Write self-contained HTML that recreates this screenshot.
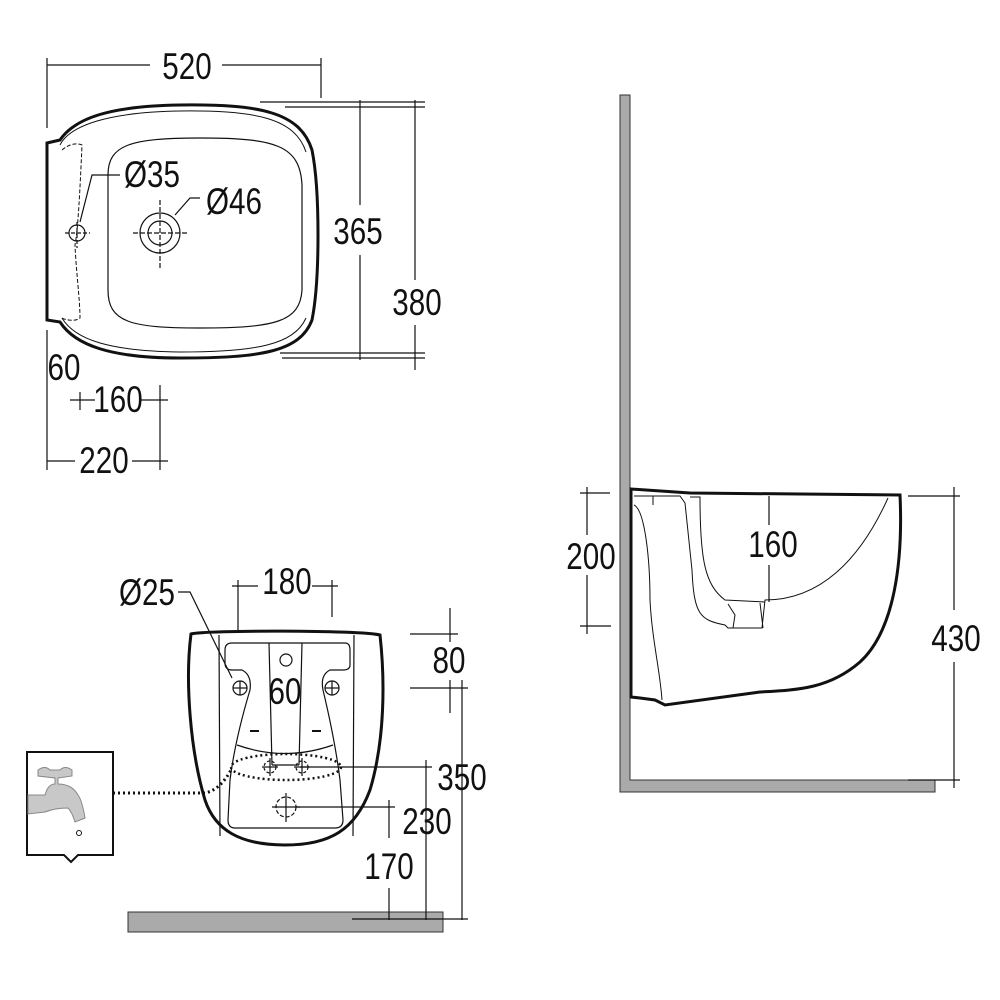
<!DOCTYPE html>
<html><head><meta charset="utf-8"><style>
html,body{margin:0;padding:0;background:#fff}
svg{display:block}
text{font-family:"Liberation Sans",sans-serif;font-size:37px;fill:#111;text-anchor:middle}
</style></head><body>
<svg width="1000" height="1000" viewBox="0 0 1000 1000" xmlns="http://www.w3.org/2000/svg">
<g fill="none" stroke="#111" stroke-width="1.2">
<line x1="47" y1="58" x2="47" y2="128"/>
<line x1="321" y1="58" x2="321" y2="98"/>
<line x1="47" y1="65" x2="150" y2="65"/>
<line x1="222" y1="65" x2="321" y2="65"/>
<line x1="260" y1="102" x2="425" y2="102"/>
<line x1="285" y1="107" x2="425" y2="107"/>
<line x1="280" y1="353" x2="425" y2="353"/>
<line x1="282" y1="358" x2="425" y2="358"/>
<line x1="360" y1="100" x2="360" y2="205"/>
<line x1="360" y1="255" x2="360" y2="360"/>
<line x1="415" y1="100" x2="415" y2="280"/>
<line x1="415" y1="325" x2="415" y2="370"/>
<line x1="47" y1="330" x2="47" y2="470"/>
<line x1="160" y1="385" x2="160" y2="470"/>
<line x1="70" y1="400" x2="95" y2="400"/>
<line x1="80" y1="392" x2="80" y2="410"/>
<line x1="140" y1="400" x2="168" y2="400"/>
<line x1="47" y1="461" x2="75" y2="461"/>
<line x1="132" y1="461" x2="168" y2="461"/>
</g>
<path d="M47 143 L60 140 C75 118 110 106 180 105 C260 104 300 112 312 150 C320 190 320 280 312 320 C300 352 260 358 180 358 C110 358 75 345 60 322 L47 320 Z" fill="none" stroke="#111" stroke-width="3"/>
<path d="M60 145 C70 125 110 112 180 111 C255 110 295 118 306 152" fill="none" stroke="#111" stroke-width="1"/>
<path d="M62 318 C75 340 110 351 180 352 C255 352 294 345 306 318" fill="none" stroke="#111" stroke-width="1"/>
<path d="M108 175 C108 145 130 138 200 138 C275 138 300 145 302 185 L302 290 C300 322 275 328 200 328 C130 328 108 322 108 290 Z" fill="none" stroke="#111" stroke-width="1.2"/>
<path d="M62 150 C70 143 78 143 82 145 C80 190 78 230 75 245 C76 270 80 300 80 318 C75 322 65 320 62 318" fill="none" stroke="#111" stroke-width="1" stroke-dasharray="4 2"/>
<g fill="none" stroke="#111" stroke-width="1.2">
<circle cx="77" cy="233" r="8"/>
<line x1="65" y1="233" x2="90" y2="233" stroke-dasharray="4 2"/>
<line x1="77" y1="222" x2="77" y2="248" stroke-dasharray="4 2"/>
<circle cx="160" cy="233" r="20"/>
<circle cx="160" cy="233" r="12"/>
<line x1="133" y1="233" x2="187" y2="233" stroke-dasharray="5 2"/>
<line x1="160" y1="200" x2="160" y2="268" stroke-dasharray="5 2"/>
<path d="M80 222 L92 175 L120 175"/>
<path d="M175 215 L190 198 L200 198"/>
</g>
<text transform="translate(187 79) scale(0.8 1)">520</text>
<text transform="translate(152 187) scale(0.8 1)">Ø35</text>
<text transform="translate(234 214) scale(0.8 1)">Ø46</text>
<text transform="translate(358 244) scale(0.8 1)">365</text>
<text transform="translate(417 315) scale(0.8 1)">380</text>
<text transform="translate(64 380) scale(0.8 1)">60</text>
<text transform="translate(118 412) scale(0.8 1)">160</text>
<text transform="translate(104 473) scale(0.8 1)">220</text>

<!-- SIDE VIEW -->
<path d="M620 95 L630 95 L630 780 L935 780 L935 792 L620 792 Z" fill="#aaa" stroke="#333" stroke-width="1"/>
<path d="M631 489 L690 493 L900 495 C903 560 895 630 860 662 C830 688 800 690 760 692 L665 705 L655 700 L640 698 L631 697 Z" fill="#fff" stroke="#111" stroke-width="3"/>
<path d="M634 505 C645 510 650 560 650 600 C652 640 660 670 662 700" fill="none" stroke="#111" stroke-width="1"/>
<path d="M634 496 L680 496 L685 503 L692 570 C694 615 700 620 725 625 L728 628 L762 628 L765 600 C820 600 860 560 888 498" fill="none" stroke="#111" stroke-width="1"/>
<path d="M690 497 L700 497 C700 560 705 585 725 600 L765 602" fill="none" stroke="#111" stroke-width="1"/>
<path d="M728 604 L735 615 L733 628 M760 603 L763 628" fill="none" stroke="#111" stroke-width="1"/>
<line x1="653" y1="496" x2="653" y2="505" stroke="#111"/>
<g fill="none" stroke="#111" stroke-width="1.2">
<line x1="580" y1="493" x2="610" y2="493"/>
<line x1="580" y1="626" x2="611" y2="626"/>
<line x1="587" y1="487" x2="587" y2="535"/>
<line x1="587" y1="575" x2="587" y2="634"/>
<line x1="769" y1="496" x2="769" y2="525"/>
<line x1="769" y1="565" x2="769" y2="602"/>
<line x1="908" y1="496" x2="960" y2="496"/>
<line x1="908" y1="780" x2="960" y2="780"/>
<line x1="954" y1="487" x2="954" y2="610"/>
<line x1="954" y1="662" x2="954" y2="788"/>
</g>
<text transform="translate(591 569) scale(0.8 1)">200</text>
<text transform="translate(773 557) scale(0.8 1)">160</text>
<text transform="translate(956 651) scale(0.8 1)">430</text>

<!-- FRONT VIEW -->
<rect x="128" y="912" width="315" height="20" fill="#aaa" stroke="#333" stroke-width="1"/>
<path d="M191 634 C205 630 360 630 380 635 C385 680 385 740 370 790 C355 830 330 845 285 845 C240 845 215 830 205 800 C190 750 185 680 191 634 Z" fill="#fff" stroke="#111" stroke-width="3"/>
<g fill="none" stroke="#111" stroke-width="1.2">
<line x1="219" y1="635" x2="220" y2="836"/>
<line x1="354" y1="635" x2="353" y2="836"/>
<path d="M225 650 Q225 643 232 643 L345 643 Q350 643 350 650 L350 665 Q350 670 343 670 L330 670 Q320 675 323 690 Q335 740 340 780 L343 820 Q343 828 335 828 L235 828 Q228 828 228 820 L230 780 Q235 740 250 690 Q252 675 242 670 L232 670 Q225 670 225 663 Z"/>
<line x1="269" y1="643" x2="272" y2="765"/>
<line x1="302" y1="643" x2="299" y2="765"/>
<line x1="272" y1="765" x2="299" y2="765"/>
<circle cx="286" cy="660" r="6"/>
<circle cx="240" cy="688" r="7"/><line x1="233" y1="688" x2="247" y2="688"/><line x1="240" y1="681" x2="240" y2="695"/>
<circle cx="332" cy="688" r="7"/><line x1="325" y1="688" x2="339" y2="688"/><line x1="332" y1="681" x2="332" y2="695"/>
<line x1="250" y1="731" x2="259" y2="731" stroke-width="2"/>
<line x1="312" y1="731" x2="321" y2="731" stroke-width="2"/>
<path d="M237 745 Q285 762 333 745"/>
<ellipse cx="286" cy="767" rx="55" ry="13" stroke-dasharray="2 3" stroke-width="2.5"/>
<circle cx="270" cy="767" r="6" stroke-dasharray="3 2"/><circle cx="302" cy="767" r="6" stroke-dasharray="3 2"/>
<line x1="262" y1="767" x2="278" y2="767"/><line x1="270" y1="758" x2="270" y2="776"/>
<line x1="294" y1="767" x2="310" y2="767"/><line x1="302" y1="758" x2="302" y2="776"/>
<circle cx="286" cy="807" r="10" stroke-dasharray="4 2"/>
<line x1="272" y1="807" x2="300" y2="807"/><line x1="286" y1="793" x2="286" y2="822"/>
<path d="M178 592 L190 592 L232 678"/>
<line x1="238" y1="580" x2="238" y2="632"/>
<line x1="332" y1="580" x2="332" y2="617"/>
<line x1="232" y1="586" x2="258" y2="586"/>
<line x1="312" y1="586" x2="338" y2="586"/>
<line x1="410" y1="634" x2="458" y2="634"/>
<line x1="410" y1="688" x2="468" y2="688"/>
<line x1="450" y1="608" x2="450" y2="642"/>
<line x1="450" y1="680" x2="450" y2="713"/>
<line x1="462" y1="680" x2="462" y2="920"/>
<line x1="300" y1="767" x2="432" y2="767"/>
<line x1="426" y1="760" x2="426" y2="920"/>
<line x1="296" y1="807" x2="395" y2="807"/>
<line x1="389" y1="800" x2="389" y2="838"/>
<line x1="389" y1="888" x2="389" y2="920"/>
<line x1="352" y1="919" x2="468" y2="919"/>
</g>
<path d="M113 793 L205 793 Q220 790 231 770" fill="none" stroke="#111" stroke-width="3" stroke-dasharray="2 3"/>
<path d="M27 752 L113 752 L113 855 L78 855 L71 862 L64 855 L27 855 Z" fill="#fff" stroke="#111" stroke-width="2"/>
<path d="M38 770 Q45 765 50 770 L60 770 Q65 765 72 770 L72 776 L58 778 L58 784 Q72 784 78 795 Q82 800 85 818 L75 822 Q72 812 68 808 Q55 808 45 812 L28 814 L28 795 L45 795 Q48 784 55 784 L55 778 L38 776 Z" fill="#c8c8c8" stroke="#888" stroke-width="1"/>
<circle cx="79" cy="833" r="2.5" fill="none" stroke="#111"/>
<text transform="translate(147 605) scale(0.8 1)">Ø25</text>
<text transform="translate(287 594) scale(0.8 1)">180</text>
<text transform="translate(449 673) scale(0.8 1)">80</text>
<text transform="translate(285 704) scale(0.8 1)">60</text>
<text transform="translate(462 790) scale(0.8 1)">350</text>
<text transform="translate(427 834) scale(0.8 1)">230</text>
<text transform="translate(389 879) scale(0.8 1)">170</text>
</svg>
</body></html>
